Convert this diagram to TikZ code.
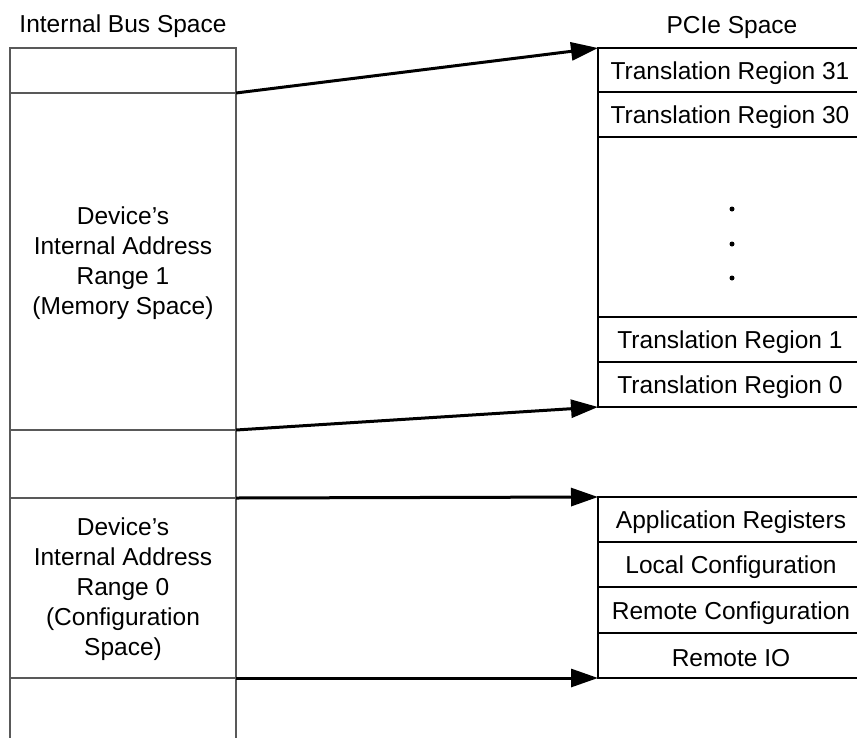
\documentclass[tikz,border=0pt]{standalone}
\usepackage{fontspec}
\setmainfont{Liberation Sans}
\usetikzlibrary{arrows.meta}
\begin{document}
\begin{tikzpicture}[x=1pt,y=-1pt,
  lbox/.style={draw=black!65, line width=1.3pt},
  rbox/.style={draw=black, line width=2.2pt},
  txt/.style={font=\fontsize{24.5}{30}\selectfont, align=center, inner sep=0pt},
  conn/.style={line width=3pt, -{Triangle[length=27pt,width=18pt]}},
  dotmark/.style={circle, fill=black, inner sep=0pt, minimum size=5pt}]
\useasboundingbox (0,0) rectangle (857,737);
\begin{scope}
\clip (0,0) rectangle (857,737);
% left column (Internal Bus Space)
\draw[lbox] (10,740) -- (10,48) -- (236,48) -- (236,740);
\foreach \yy in {93,430,498,678} \draw[lbox] (10,\yy) -- (236,\yy);
% right column (PCIe Space)
\draw[rbox] (870,48) -- (598,48) -- (598,407) -- (870,407);
\foreach \yy in {92,137,317,362} \draw[rbox] (598,\yy) -- (870,\yy);
\draw[rbox] (870,497) -- (598,497) -- (598,678) -- (870,678);
\foreach \yy in {542,587,633} \draw[rbox] (598,\yy) -- (870,\yy);
\end{scope}
% headings
\node[txt] (hbus) at (123,26) {Internal Bus Space};
\node[txt] (hpcie) at (732,27.5) {PCIe Space};
% left texts
\node[txt] (range1) at (123,263) {Device’s\\Internal Address\\Range 1\\(Memory Space)};
\node[txt] (range0) at (123,589) {Device’s\\Internal Address\\Range 0\\(Configuration\\Space)};
% right texts
\node[txt] (tr31) at (730,73) {Translation Region 31};
\node[txt] (tr30) at (730,117.5) {Translation Region 30};
\node[txt] (tr1) at (730,342.5) {Translation Region 1};
\node[txt] (tr0) at (730,387.5) {Translation Region 0};
\node[txt] (appreg) at (731,522.5) {Application Registers};
\node[txt] (lconf) at (731,567.5) {Local Configuration};
\node[txt] (rconf) at (731,613) {Remote Configuration};
\node[txt] (rio) at (731,658.5) {Remote IO};
% dots
\node[dotmark] (d1) at (732,209) {};
\node[dotmark] (d2) at (732,244) {};
\node[dotmark] (d3) at (732,278) {};
% connector endpoints
\coordinate (a1) at (236,93);
\coordinate (b1) at (598,48);
\coordinate (a2) at (236,430);
\coordinate (b2) at (598,407);
\coordinate (a3) at (236,498);
\coordinate (b3) at (598,497);
\coordinate (a4) at (236,678);
\coordinate (b4) at (598,678);
\draw[conn] (a1) -- (b1);
\draw[conn] (a2) -- (b2);
\draw[conn] (a3) -- (b3);
\draw[conn] (a4) -- (b4);
\end{tikzpicture}
\end{document}
